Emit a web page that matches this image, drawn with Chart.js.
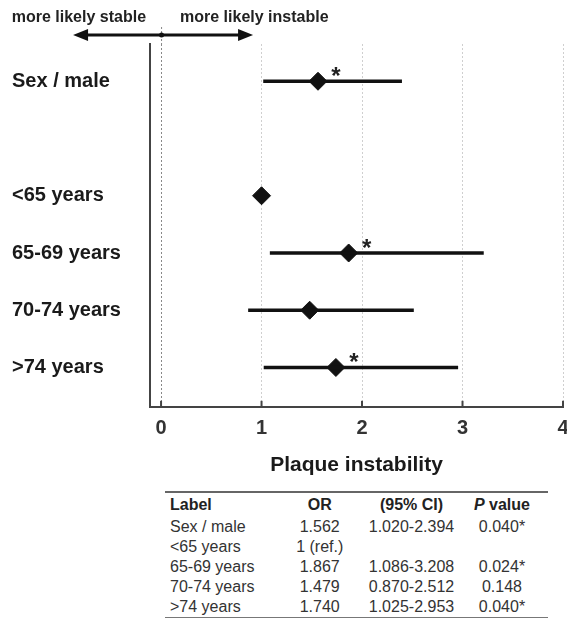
<!DOCTYPE html>
<html>
<head>
<meta charset="utf-8">
<script src="https://cdn.jsdelivr.net/npm/chart.js@4.4.1/dist/chart.umd.min.js"></script>
<style>
  body { margin: 0; background: #fff; font-family: "Liberation Sans", Arial, sans-serif; }
  #wrap { position: relative; width: 567px; height: 619px; }
  #stats {
    position: absolute; left: 165px; top: 491px; width: 383px;
    border-collapse: collapse; font-size: 16px; color: #333;
    border-top: 2px solid #666; border-bottom: 1px solid #777;
  }
  #stats th, #stats td { height: 20px; padding: 0; line-height: 20px; white-space: nowrap; }
  #stats th { height: 24px; font-weight: bold; color: #222; }
  #stats .c1 { width: 125px; text-align: left; padding-left: 5px; }
  #stats .c2 { width: 60px; text-align: center; }
  #stats .c3 { width: 130px; text-align: center; }
  #stats .c4 { width: 50px; text-align: center; padding-right: 18px; }
</style>
</head>
<body>
<div id="wrap">
  <canvas id="chart" width="567" height="480"></canvas>
  <table id="stats"></table>
</div>
<script>
// rows of the forest plot (the blank one is the gap between sex and age groups)
const labels = ['Sex / male', '', '<65 years', '65-69 years', '70-74 years', '>74 years'];
const oddsRatio = [1.562, null, 1, 1.867, 1.479, 1.740];
const ciLow = [1.020, null, null, 1.086, 0.870, 1.025];
const ciHigh = [2.394, null, null, 3.208, 2.512, 2.953];
const pValues = [0.040, null, null, 0.024, 0.148, 0.040];
const xTicks = [0, 1, 2, 3, 4];

// table text
const tableHead = ['Label', 'OR', '(95% CI)', 'P value'];
const tableOR = ['1.562', '1 (ref.)', '1.867', '1.479', '1.740'];
const tableCI = ['1.020-2.394', '', '1.086-3.208', '0.870-2.512', '1.025-2.953'];
const tableP = ['0.040*', '', '0.024*', '0.148', '0.040*'];

const FONT = '"Liberation Sans", Arial, sans-serif';

const rows = labels.map((l, i) => i).filter(i => labels[i] !== '');

const ciData = [];
rows.forEach(i => {
  if (ciLow[i] != null) ciData.push({ x: [ciLow[i], ciHigh[i]], y: i });
});
const orData = [];
rows.forEach(i => orData.push({ x: oddsRatio[i], y: i }));

const decor = {
  id: 'decor',
  beforeDatasetsDraw(chart) {
    const { ctx, chartArea: a, scales: { x } } = chart;
    const x0 = x.getPixelForValue(0);
    ctx.save();
    // the reference line keeps going up to the arrow
    ctx.strokeStyle = '#888';
    ctx.lineWidth = 1;
    ctx.setLineDash([2, 2]);
    ctx.beginPath();
    ctx.moveTo(x0 + 0.5, 27);
    ctx.lineTo(x0 + 0.5, a.top);
    ctx.stroke();
    ctx.setLineDash([]);

    // small ticks pointing into the plot
    ctx.strokeStyle = '#444';
    ctx.lineWidth = 2;
    xTicks.forEach(v => {
      const px = x.getPixelForValue(v);
      ctx.beginPath();
      ctx.moveTo(px, a.bottom - 6);
      ctx.lineTo(px, a.bottom);
      ctx.stroke();
    });

    // double arrow at the top
    const ay = 35, left = x0 - 88, right = x0 + 92;
    ctx.strokeStyle = '#111';
    ctx.fillStyle = '#111';
    ctx.lineWidth = 3;
    ctx.beginPath();
    ctx.moveTo(left + 10, ay);
    ctx.lineTo(right - 10, ay);
    ctx.stroke();
    ctx.beginPath();
    ctx.moveTo(left, ay);
    ctx.lineTo(left + 15, ay - 6);
    ctx.lineTo(left + 15, ay + 6);
    ctx.closePath();
    ctx.fill();
    ctx.beginPath();
    ctx.moveTo(right, ay);
    ctx.lineTo(right - 15, ay - 6);
    ctx.lineTo(right - 15, ay + 6);
    ctx.closePath();
    ctx.fill();
    ctx.beginPath();
    ctx.arc(x0 + 0.5, ay, 2.5, 0, Math.PI * 2);
    ctx.fill();

    ctx.font = 'bold 16px ' + FONT;
    ctx.fillStyle = '#222';
    ctx.textBaseline = 'middle';
    ctx.textAlign = 'right';
    ctx.fillText('more likely stable', x0 - 15, 18);
    ctx.textAlign = 'left';
    ctx.fillText('more likely instable', x0 + 19, 18);
    ctx.restore();
  },
  afterDatasetsDraw(chart) {
    const { ctx } = chart;
    const meta = chart.getDatasetMeta(1);
    ctx.save();
    ctx.font = 'bold 24px ' + FONT;
    ctx.fillStyle = '#222';
    ctx.textAlign = 'center';
    ctx.textBaseline = 'alphabetic';
    meta.data.forEach((pt, k) => {
      const i = orData[k].y;
      if (pValues[i] != null && pValues[i] < 0.05) {
        ctx.fillText('*', pt.x + 18, pt.y + 3);
      }
    });
    ctx.restore();
  }
};

new Chart(document.getElementById('chart'), {
  data: {
    datasets: [
      {
        type: 'bar',
        indexAxis: 'y',
        data: ciData,
        backgroundColor: '#111',
        borderWidth: 0,
        barThickness: 3
      },
      {
        type: 'line',
        data: orData,
        showLine: false,
        pointStyle: 'rectRot',
        pointRadius: 9,
        backgroundColor: '#111',
        borderColor: '#111',
        borderWidth: 1
      }
    ]
  },
  options: {
    responsive: false,
    animation: false,
    layout: { autoPadding: false, padding: { top: 44, left: 12, bottom: 0, right: 0 } },
    plugins: { legend: { display: false }, tooltip: { enabled: false } },
    scales: {
      x: {
        type: 'linear',
        min: -0.11,
        max: 4,
        afterBuildTicks: s => { s.ticks = xTicks.map(v => ({ value: v })); },
        // let the last label run to the edge like the original
        afterFit: s => { s.paddingRight = 4; },
        grid: {
          color: c => (c.tick && c.tick.value === 0 ? '#888' : '#cfcfcf'),
          lineWidth: 1,
          drawTicks: false
        },
        border: { display: true, color: '#444', width: 2, dash: [2, 2] },
        ticks: { font: { family: FONT, size: 20, weight: 'bold' }, color: '#333', padding: 10 },
        title: {
          display: true,
          text: 'Plaque instability',
          font: { family: FONT, size: 21, weight: 'bold' },
          color: '#1a1a1a',
          padding: { top: 2, bottom: 2 }
        }
      },
      y: {
        type: 'linear',
        reverse: true,
        offset: false,
        min: -0.651,
        max: 5.687,
        afterBuildTicks: s => { s.ticks = rows.map(v => ({ value: v })); },
        afterFit: s => { s.width = 138; },
        grid: { display: false },
        border: { display: true, color: '#444', width: 2 },
        ticks: {
          crossAlign: 'far',
          font: { family: FONT, size: 20, weight: 'bold' },
          color: '#1a1a1a',
          callback: v => labels[v]
        }
      }
    }
  },
  plugins: [decor]
});

// stats table under the chart
const table = document.getElementById('stats');
let html = '<tr>' +
  '<th class="c1">' + tableHead[0] + '</th>' +
  '<th class="c2">' + tableHead[1] + '</th>' +
  '<th class="c3">' + tableHead[2] + '</th>' +
  '<th class="c4"><i>P</i> value</th></tr>';
rows.forEach((i, k) => {
  html += '<tr><td class="c1">' + labels[i].replace('<', '&lt;').replace('>', '&gt;') + '</td>' +
    '<td class="c2">' + tableOR[k] + '</td>' +
    '<td class="c3">' + tableCI[k] + '</td>' +
    '<td class="c4">' + tableP[k] + '</td></tr>';
});
table.innerHTML = html;
</script>
</body>
</html>
